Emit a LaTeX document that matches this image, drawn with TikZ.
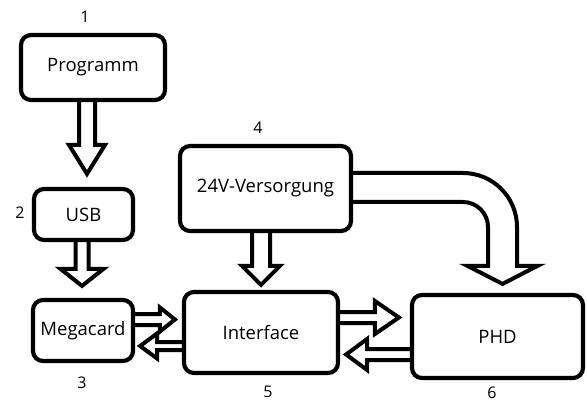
\documentclass[tikz,border=0pt]{standalone}
\usepackage{fontspec}
\setmainfont{Open Sans}
\usetikzlibrary{calc,backgrounds}
\tikzset{
  box/.style={draw, line width=4.2pt, rounded corners=10pt, fill=white, inner sep=0pt,
    font=\fontsize{18.5}{20}\selectfont},
  num/.style={font=\fontsize{16}{18}\selectfont, inner sep=0pt},
  blk/.style={draw, fill=white, line width=4pt, line join=miter, miter limit=10},
}
% #1 start anchor, #2 end anchor, #3 x, #4 shaft half, #5 head half, #6 head length, #7 gap
\newcommand\blkdown[7]{%
  \draw[blk] let \p1=(#1), \p2=(#2) in
    ({#3-#4},\y1) -- ({#3-#4},{\y2+#7pt+#6pt}) -- ({#3-#5},{\y2+#7pt+#6pt})
    -- (#3,{\y2+#7pt}) -- ({#3+#5},{\y2+#7pt+#6pt}) -- ({#3+#4},{\y2+#7pt+#6pt})
    -- ({#3+#4},\y1);}
% #1 start anchor, #2 end anchor, #3 y, #4 shaft half, #5 head half, #6 head length, #7 gap
\newcommand\blkright[7]{%
  \draw[blk] let \p1=(#1), \p2=(#2) in
    (\x1,{#3-#4}) -- ({\x2-#7pt-#6pt},{#3-#4}) -- ({\x2-#7pt-#6pt},{#3-#5})
    -- ({\x2-#7pt},#3) -- ({\x2-#7pt-#6pt},{#3+#5}) -- ({\x2-#7pt-#6pt},{#3+#4})
    -- (\x1,{#3+#4});}
\newcommand\blkleft[7]{%
  \draw[blk] let \p1=(#1), \p2=(#2) in
    (\x1,{#3-#4}) -- ({\x2+#7pt+#6pt},{#3-#4}) -- ({\x2+#7pt+#6pt},{#3-#5})
    -- ({\x2+#7pt},#3) -- ({\x2+#7pt+#6pt},{#3+#5}) -- ({\x2+#7pt+#6pt},{#3+#4})
    -- (\x1,{#3+#4});}
\begin{document}
\begin{tikzpicture}[x=1pt,y=-1pt]
\useasboundingbox (0,0) rectangle (587,401);

\node[box, minimum width=144, minimum height=65] (prog) at (93,67.5) {Programm};
\node[box, minimum width=99, minimum height=51] (usb) at (83.5,214.5) {USB};
\node[box, minimum width=100, minimum height=61] (mega) at (83,330.5) {Megacard};
\node[box, minimum width=171, minimum height=85] (vers) at (265.5,188.5) {24V-Versorgung};
\node[box, minimum width=154, minimum height=81] (inter) at (261,332.5) {Interface};
\node[box, minimum width=171, minimum height=83] (phd) at (497.5,336.5) {PHD};

\node[num] (n1) at (85,17) {1};
\node[num] (n2) at (20,213) {2};
\node[num] (n3) at (82,383) {3};
\node[num] (n4) at (258,128) {4};
\node[num] (n5) at (268,392) {5};
\node[num] (n6) at (492,392.5) {6};

\begin{pgfonlayer}{background}
\blkdown{prog.south}{usb.north}{87}{8}{18}{29}{13}
\blkdown{usb.south}{mega.north}{82}{6.5}{21.5}{17}{12}
\blkdown{vers.south}{inter.north}{261}{9}{19}{19}{5}
\blkright{mega.east}{inter.west}{319.5}{5.5}{12}{15}{7}
\blkleft{inter.west}{mega.east}{346}{4}{12.5}{17}{5}
\blkright{inter.east}{phd.west}{317.5}{5.5}{16.5}{24}{11}
\blkleft{phd.west}{inter.east}{354.5}{5.5}{15.5}{21}{6}
\draw[blk] let \p1=(vers.east), \p2=(phd.north) in
  (\x1,173) -- (463,173) arc[start angle=-90, end angle=0, radius=54]
  -- (517,{\y2+9pt+18pt}) -- (537.5,{\y2+9pt+18pt}) -- (502.5,{\y2+9pt})
  -- (467.5,{\y2+9pt+18pt}) -- (488,{\y2+9pt+18pt}) -- (488,227)
  arc[start angle=0, end angle=-90, radius=25] -- (\x1,202);
\end{pgfonlayer}
\end{tikzpicture}
\end{document}
